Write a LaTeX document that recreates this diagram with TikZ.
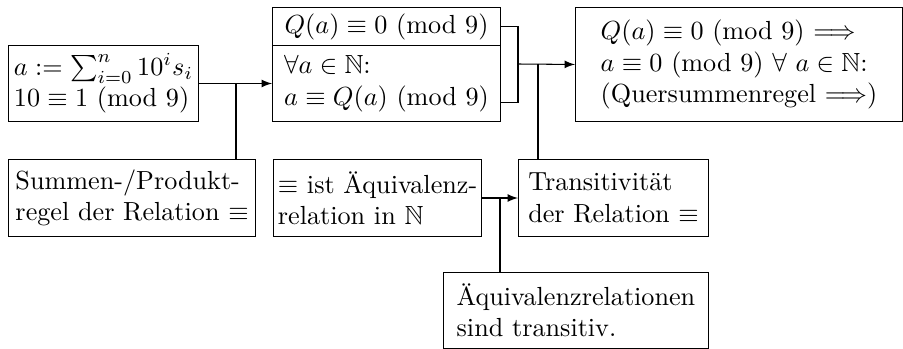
\documentclass[tikz,border=0pt]{standalone}
\usepackage{amsmath}
\usepackage{amssymb}

\tikzset{
    box/.style={draw, align=left, anchor=north west, inner sep=1.5pt},
}

\begin{document}
\begin{tikzpicture}[x=0.382pt, y=-0.382pt, >=latex]
    % Fix picture size
    \useasboundingbox (0,0) rectangle (903,349);

    % Top row
    \node[box, minimum width=72.6pt, minimum height=29pt] (defn) at (8,45)
        {$a := \sum_{i=0}^n 10^i s_i$\\$10 \equiv 1$ (mod 9)};
    \node[box, minimum width=87.1pt, minimum height=14.5pt] (qtop) at (272,7)
        {$Q(a) \equiv 0$ (mod 9)};
    \node[box, minimum width=87.1pt, minimum height=29pt] (qall) at (272,45)
        {$\forall a \in \mathbb{N}$:\\$a \equiv Q(a)$ (mod 9)};
    \node[box, minimum width=124.9pt, minimum height=43.5pt] (result) at (575,7)
        {$Q(a) \equiv 0$ (mod 9) $\Longrightarrow$\\$a \equiv 0$ (mod 9) $\forall\ a \in \mathbb{N}$:\\(Quersummenregel $\Longrightarrow$)};

    % Middle row
    \node[box, minimum width=94.4pt, minimum height=29.4pt] (rule) at (8,159)
        {Summen-/Produkt-\\regel der Relation $\equiv$};
    \node[box, minimum width=79.5pt, minimum height=29.4pt] (equiv) at (273,159)
        {$\equiv$ ist Äquivalenz-\\relation in $\mathbb{N}$};
    \node[box, minimum width=72.6pt, minimum height=29.4pt] (trans) at (518,159)
        {Transitivität\\der Relation $\equiv$};

    % Bottom row
    \node[box, minimum width=101.2pt, minimum height=29pt] (transall) at (443,272)
        {Äquivalenzrelationen\\sind transitiv.};

    % Junctions
    \coordinate (j1) at (236,84);
    \coordinate (j2) at (518,64);
    \coordinate (j3) at (538,64);
    \coordinate (j4) at (500,197);

    % Draw connectors
    \draw[->] (defn.east) -- (qall.west);
    \draw (j1) -- (j1 |- rule.north);
    \draw (qtop.east) -| (j2);
    \draw (j2) |- ([yshift=7.3pt]qall.south east);
    \draw[->] (j2) -- (result.west);
    \draw (j3) -- (j3 |- trans.north);
    \draw[->] (equiv.east) -- (trans.west);
    \draw (j4) -- (j4 |- transall.north);

\end{tikzpicture}
\end{document}
